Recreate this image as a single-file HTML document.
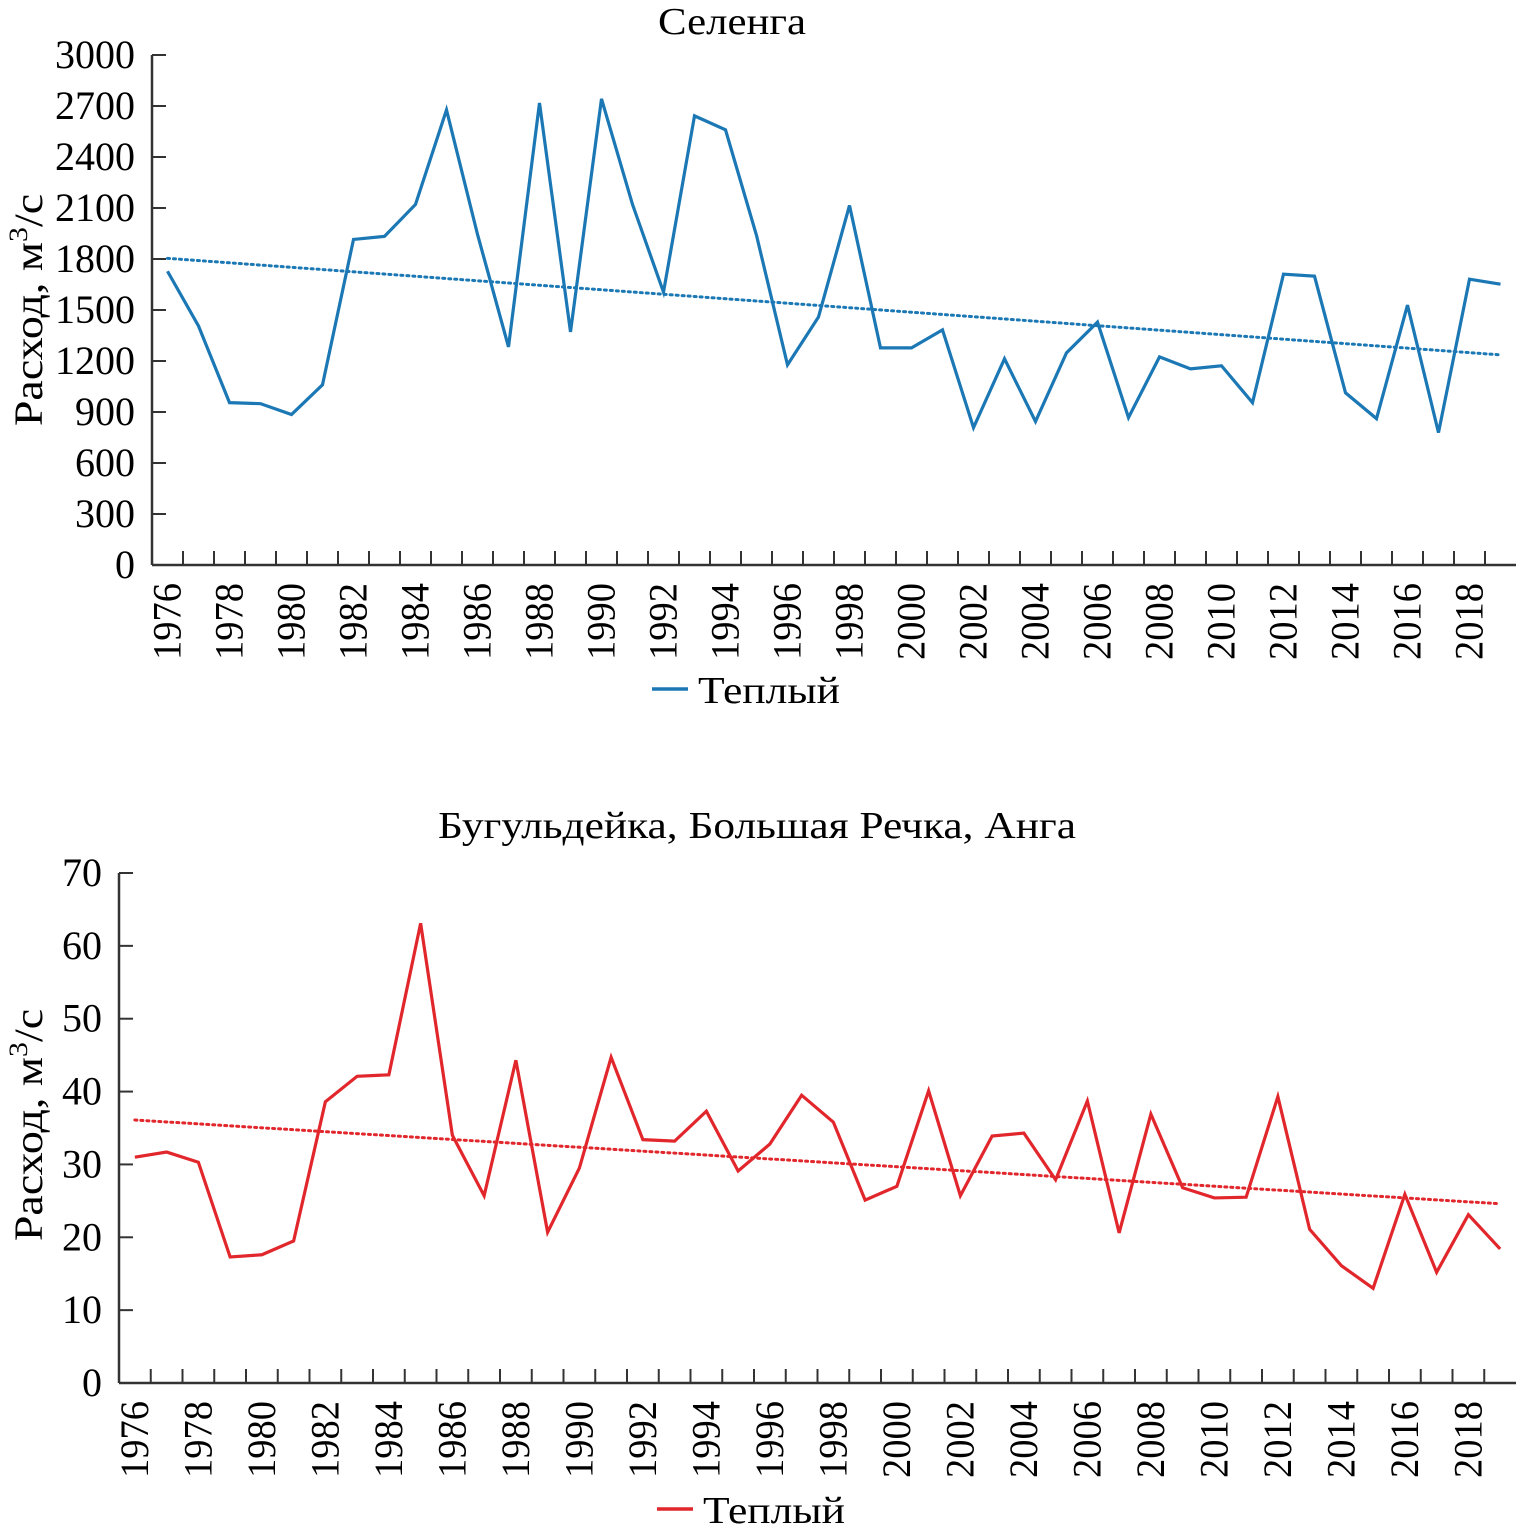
<!DOCTYPE html>
<html><head><meta charset="utf-8"><style>
body{margin:0;background:#fff;}
svg{display:block;font-family:"Liberation Serif",serif;}
</style></head><body>
<svg width="1518" height="1536" viewBox="0 0 1518 1536">
<g id="top"></g>
<g id="bot"></g>
</svg>
<script>
const years = [];
for (let y = 1976; y <= 2019; y++) years.push(y);
const selengaValues = [1728,1406,955,949,885,1060,1915,1933,2121,2677,1945,1283,2718,1371,2742,2121,1605,2642,2560,1939,1177,1459,2115,1277,1277,1383,808,1213,844,1248,1429,867,1224,1154,1172,955,1711,1699,1013,861,1529,779,1681,1652];
const selengaTrend = [1804,1236];
const selengaTicks = [0,300,600,900,1200,1500,1800,2100,2400,2700,3000];
const bugulValues = [31.0,31.7,30.3,17.3,17.6,19.5,38.6,42.1,42.3,63.1,34.0,25.7,44.3,20.7,29.5,44.7,33.4,33.2,37.3,29.1,32.8,39.5,35.8,25.1,27.0,40.1,25.7,33.9,34.3,27.9,38.7,20.6,36.9,26.8,25.4,25.5,39.3,21.1,16.1,13.0,25.9,15.2,23.1,18.4];
const bugulTrend = [36.1,24.6];
const bugulTicks = [0,10,20,30,40,50,60,70];

const NS='http://www.w3.org/2000/svg';
function mk(parent,tag,attrs,text){const e=document.createElementNS(NS,tag);for(const k in attrs)e.setAttribute(k,attrs[k]);if(text!==undefined)e.textContent=text;parent.appendChild(e);return e;}

function drawChart(g,cfg){
  const {x0,x1,yTop,yBot,max,vals,trend,ticks,color,title,titleX,titleY,titleLen,legY,legX,ytitleY}=cfg;
  const n=years.length, step=(x1-x0)/n;
  const xs=i=>x0+step*(i+0.5);
  const ys=v=>yBot-(v/max)*(yBot-yTop);
  let t=mk(g,'text',{x:titleX-titleLen/2,y:titleY,'font-size':38,textLength:titleLen,lengthAdjust:'spacingAndGlyphs'},title);
  
  
  let ya=mk(g,'line',{x1:x0,y1:yTop,x2:x0,y2:yBot,stroke:'#333','stroke-width':2.5});
  
  
  let xa=mk(g,'line',{x1:x0,y1:yBot,x2:x1,y2:yBot,stroke:'#333','stroke-width':2.5});
  
  
  ticks.forEach(v=>{
    const y=ys(v);
    mk(g,'line',{x1:x0,y1:y,x2:x0+14,y2:y,stroke:'#333','stroke-width':2});
    let l=mk(g,'text',{x:x0-17,y:y+13,'font-size':40,'text-anchor':'end'},String(v));
    
    
  });
  for(let i=1;i<n;i++){const x=x0+step*i;mk(g,'line',{x1:x,y1:yBot,x2:x,y2:yBot-14,stroke:'#333','stroke-width':2});}
  years.forEach((yr,i)=>{
    if(i%2)return;
    const x=xs(i);
    let l=mk(g,'text',{x:-77,y:0,'font-size':40,textLength:77,lengthAdjust:'spacingAndGlyphs',transform:`translate(${x+13},${yBot+18}) rotate(-90)`},String(yr));
    
    
  });
  let yt=mk(g,'text',{x:0,y:0,'font-size':40,'text-anchor':'middle',transform:`translate(42,${ytitleY}) rotate(-90) scale(1.15,1)`});
  
  
  yt.innerHTML='Расход, м<tspan dy="-15" font-size="26">3</tspan><tspan dy="15">/с</tspan>';
  let tr=mk(g,'line',{x1:xs(0),y1:ys(trend[0]),x2:xs(n-1),y2:ys(trend[1]),stroke:color,'stroke-width':3,'stroke-dasharray':'2 4','stroke-linecap':'round'});
  
  
  let p=mk(g,'polyline',{points:vals.map((v,i)=>xs(i)+','+ys(v)).join(' '),fill:'none',stroke:color,'stroke-width':3.2,'stroke-linejoin':'miter'});
  
  
  let lg=mk(g,'g',{});
  
  
  mk(lg,'line',{x1:legX,y1:legY,x2:legX+36,y2:legY,stroke:color,'stroke-width':3.5});
  mk(lg,'text',{x:legX+46,y:legY+14,'font-size':38,textLength:142,lengthAdjust:'spacingAndGlyphs'},'Теплый');
}
drawChart(document.getElementById('top'),{x0:152,x1:1516,yTop:55,yBot:565,max:3000,vals:selengaValues,trend:selengaTrend,ticks:selengaTicks,color:'#1b78b5',title:'Селенга',titleX:732,titleY:34,titleLen:148,legY:689,legX:652,ytitleY:310});
drawChart(document.getElementById('bot'),{x0:119,x1:1516,yTop:873,yBot:1383,max:70,vals:bugulValues,trend:bugulTrend,ticks:bugulTicks,color:'#e1262c',title:'Бугульдейка, Большая Речка, Анга',titleX:757,titleY:838,titleLen:638,legY:1509,legX:657,ytitleY:1125});
</script>
</body></html>
